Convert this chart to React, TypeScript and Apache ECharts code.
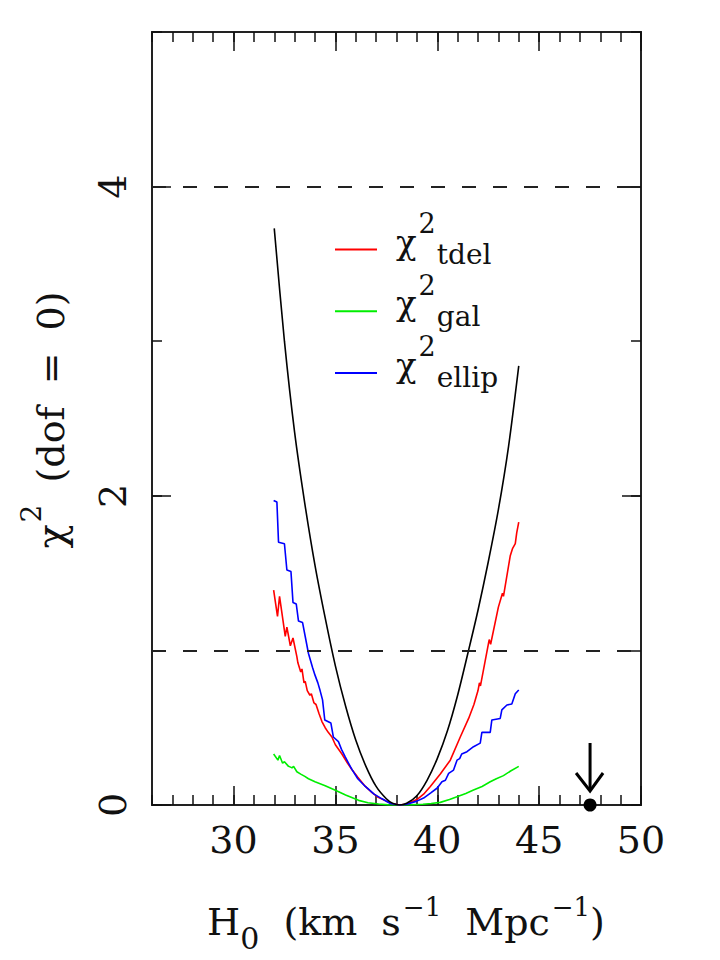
import React, { useEffect, useRef } from "react";
import * as echarts from "echarts";

// ---- axis ranges and ticks ----
const xLimits = [26, 50];
const yLimits = [0, 5];
const xMajorTicks = [30, 35, 40, 45, 50];
const yMajorTicks = [0, 2, 4];
const refLevels = [1, 4];
const limitMarker = [47.5, 0];

// ---- total chi^2 (black) ----
const totalX = [32, 32.5, 33, 33.5, 34, 34.5, 35, 35.5, 36, 36.5, 37, 37.5, 37.8, 38.15, 38.5, 39, 39.5, 40, 40.5, 41, 41.5, 42, 42.5, 43, 43.5, 44];
const totalY = [3.73, 3.0, 2.41, 1.95, 1.55, 1.21, 0.9, 0.64, 0.42, 0.25, 0.12, 0.04, 0.012, 0, 0.011, 0.06, 0.16, 0.3, 0.48, 0.71, 0.98, 1.26, 1.57, 1.91, 2.32, 2.84];

// ---- chi^2 tdel (red) ----
const tdelX = [31.97, 32.16, 32.26, 32.54, 32.62, 32.79, 32.92, 33.11, 33.16, 33.3, 33.36, 33.46, 33.52, 33.62, 33.75, 33.82, 33.95, 34.05, 34.2, 34.34, 34.5, 34.65, 34.83, 35.0, 35.32, 35.6, 35.81, 36.1, 36.47, 36.8, 37.1, 37.5, 37.8, 38.15, 38.5, 39.0, 39.33, 39.66, 40.15, 40.64, 41.13, 41.54, 41.8, 42.0, 42.07, 42.12, 42.35, 42.55, 42.62, 43.0, 43.2, 43.25, 43.58, 43.7, 43.83, 43.9, 44.0];
const tdelY = [1.39, 1.22, 1.35, 1.09, 1.15, 1.03, 1.08, 0.96, 0.92, 0.86, 0.88, 0.79, 0.8, 0.74, 0.71, 0.72, 0.66, 0.65, 0.59, 0.54, 0.5, 0.47, 0.44, 0.39, 0.33, 0.27, 0.23, 0.18, 0.12, 0.08, 0.05, 0.025, 0.01, 0, 0.006, 0.035, 0.07, 0.12, 0.2, 0.29, 0.44, 0.56, 0.65, 0.74, 0.79, 0.77, 0.93, 1.07, 1.04, 1.28, 1.37, 1.35, 1.61, 1.66, 1.69, 1.76, 1.83];

// ---- chi^2 gal (green) ----
const galX = [31.97, 32.18, 32.26, 32.41, 32.5, 32.7, 32.8, 32.87, 32.95, 33.11, 33.3, 33.5, 33.68, 34.0, 34.5, 35.0, 35.5, 36.14, 36.6, 37.12, 37.6, 38.15, 38.7, 39.3, 39.7, 40.15, 40.6, 40.97, 41.4, 41.78, 42.2, 42.6, 42.9, 43.25, 43.6, 44.0];
const galY = [0.33, 0.29, 0.32, 0.27, 0.28, 0.25, 0.245, 0.24, 0.25, 0.215, 0.2, 0.185, 0.17, 0.15, 0.125, 0.095, 0.065, 0.03, 0.015, 0.006, 0.001, 0, 0.001, 0.005, 0.01, 0.017, 0.035, 0.054, 0.075, 0.097, 0.12, 0.15, 0.17, 0.19, 0.22, 0.25];

// ---- chi^2 ellip (blue) ----
const ellipX = [31.97, 32.13, 32.21, 32.5, 32.62, 32.82, 32.92, 33.08, 33.19, 33.39, 33.52, 33.68, 33.88, 34.0, 34.14, 34.25, 34.37, 34.48, 34.78, 34.9, 35.15, 35.3, 35.49, 35.65, 35.81, 36.1, 36.47, 36.9, 37.29, 37.7, 38.15, 38.5, 39.0, 39.33, 39.7, 40.0, 40.23, 40.4, 40.56, 40.8, 40.97, 41.1, 41.2, 41.46, 41.78, 42.11, 42.19, 42.6, 42.68, 43.09, 43.17, 43.42, 43.66, 43.83, 44.0];
const ellipY = [1.97, 1.96, 1.7, 1.69, 1.52, 1.51, 1.31, 1.3, 1.19, 1.18, 1.09, 0.98, 0.89, 0.84, 0.79, 0.74, 0.68, 0.55, 0.53, 0.44, 0.41, 0.36, 0.31, 0.27, 0.23, 0.17, 0.12, 0.07, 0.04, 0.01, 0, 0.005, 0.025, 0.045, 0.08, 0.11, 0.15, 0.16, 0.205, 0.226, 0.29, 0.3, 0.33, 0.345, 0.377, 0.4, 0.47, 0.47, 0.55, 0.56, 0.615, 0.647, 0.653, 0.72, 0.744];

const legendSubs = ["tdel", "gal", "ellip"];

const FONT = "DejaVu Serif";
const INK = "#111";
const RED = "#ff0000";
const GREEN = "#00ee00";
const BLUE = "#0000ff";
const legendColors = [RED, GREEN, BLUE];

export default function App() {
  const ref = useRef<HTMLDivElement>(null);

  useEffect(() => {
    const el = ref.current;
    if (!el) return;
    const chart = echarts.init(el, null, { renderer: "svg" });
    const pairs = (xs: number[], ys: number[]) => xs.map((x, i) => [x, ys[i]]);
    const tickLine = { color: INK, width: 1.5 };

    const xAxisDef = (position: string, major: boolean, labels: boolean) => ({
      type: "value",
      position,
      min: xLimits[0],
      max: xLimits[1],
      interval: 1,
      axisLine: { show: false, onZero: false },
      axisTick: major
        ? { show: true, inside: true, length: 19, lineStyle: tickLine, customValues: xMajorTicks }
        : { show: true, inside: true, length: 10, lineStyle: tickLine },
      axisLabel: labels
        ? {
            show: true,
            customValues: xMajorTicks,
            formatter: (v: number) => (xMajorTicks.includes(v) ? String(v) : ""),
            fontFamily: FONT,
            fontSize: 38,
            color: INK,
            margin: 16,
          }
        : { show: false },
      splitLine: { show: false },
    });

    const yAxisDef = (position: string, major: boolean, labels: boolean) => ({
      type: "value",
      position,
      min: yLimits[0],
      max: yLimits[1],
      interval: 1,
      axisLine: { show: false, onZero: false },
      axisTick: major
        ? { show: true, inside: true, length: 19, lineStyle: tickLine, customValues: yMajorTicks }
        : { show: true, inside: true, length: 10, lineStyle: tickLine },
      axisLabel: labels
        ? {
            show: true,
            customValues: yMajorTicks,
            formatter: (v: number) => (yMajorTicks.includes(v) ? String(v) : ""),
            fontFamily: FONT,
            fontSize: 38,
            color: INK,
            rotate: 90,
            margin: 20,
          }
        : { show: false },
      splitLine: { show: false },
    });

    const legendGraphics: any[] = [];
    legendSubs.forEach((sub, i) => {
      const ly = 249.5 + 61.7 * i;
      legendGraphics.push({
        type: "line",
        shape: { x1: 335, y1: ly, x2: 377, y2: ly },
        style: { stroke: legendColors[i], lineWidth: 2 },
      });
      legendGraphics.push({
        type: "text",
        x: 396,
        y: ly - 8,
        style: {
          text: `{c|χ}{sup|2}{sub|${sub}}`,
          verticalAlign: "middle",
          align: "left",
          fill: INK,
          rich: {
            c: { fontFamily: FONT, fontSize: 34, fill: INK, verticalAlign: "middle" },
            sup: { fontFamily: FONT, fontSize: 27, fill: INK, verticalAlign: "middle", padding: [0, 0, 36, 2] },
            sub: { fontFamily: FONT, fontSize: 28, fill: INK, verticalAlign: "middle", padding: [26, 0, 0, 1] },
          },
        },
      });
    });

    const option: any = {
      animation: false,
      backgroundColor: "#ffffff",
      grid: {
        left: 152,
        right: 79,
        top: 32,
        bottom: 155,
        show: true,
        borderColor: "#222",
        borderWidth: 2,
        backgroundColor: "transparent",
      },
      xAxis: [
        xAxisDef("bottom", false, true),
        xAxisDef("bottom", true, false),
        xAxisDef("top", false, false),
        xAxisDef("top", true, false),
      ],
      yAxis: [
        yAxisDef("left", false, true),
        yAxisDef("left", true, false),
        yAxisDef("right", false, false),
        yAxisDef("right", true, false),
      ],
      series: [
        {
          type: "line",
          name: "total",
          data: pairs(totalX, totalY),
          symbol: "none",
          smooth: 0.3,
          lineStyle: { color: "#000", width: 1.6 },
          z: 4,
          markLine: {
            silent: true,
            symbol: ["none", "none"],
            label: { show: false },
            lineStyle: { color: "#222", type: [14, 17], width: 2 },
            data: refLevels.map((v) => ({ yAxis: v })),
          },
        },
        {
          type: "line",
          name: "tdel",
          data: pairs(tdelX, tdelY),
          symbol: "none",
          lineStyle: { color: RED, width: 1.6 },
          z: 3,
        },
        {
          type: "line",
          name: "gal",
          data: pairs(galX, galY),
          symbol: "none",
          lineStyle: { color: GREEN, width: 1.6 },
          z: 2,
        },
        {
          type: "line",
          name: "ellip",
          data: pairs(ellipX, ellipY),
          symbol: "none",
          lineStyle: { color: BLUE, width: 1.6 },
          z: 3,
        },
        {
          type: "custom",
          name: "limit",
          data: [limitMarker],
          clip: false,
          z: 10,
          renderItem: (params: any, api: any) => {
            const p = api.coord([api.value(0), api.value(1)]);
            return {
              type: "group",
              children: [
                {
                  type: "line",
                  shape: { x1: p[0], y1: p[1] - 62, x2: p[0], y2: p[1] - 14 },
                  style: { stroke: "#000", lineWidth: 3 },
                },
                {
                  type: "polyline",
                  shape: { points: [[p[0] - 14, p[1] - 32], [p[0], p[1] - 14], [p[0] + 13, p[1] - 32]] },
                  style: { stroke: "#000", lineWidth: 3, fill: null },
                },
                {
                  type: "circle",
                  shape: { cx: p[0], cy: p[1], r: 6.5 },
                  style: { fill: "#000" },
                },
              ],
            };
          },
        },
      ],
      graphic: [
        ...legendGraphics,
        {
          type: "text",
          x: 406,
          y: 922,
          style: {
            text: "{n|H}{sub|0}{w| (km}{w| s}{sup|−1}{w| Mpc}{sup|−1}{n|)}",
            align: "center",
            verticalAlign: "middle",
            fill: INK,
            rich: {
              n: { fontFamily: FONT, fontSize: 38, fill: INK, verticalAlign: "middle" },
              w: { fontFamily: FONT, fontSize: 38, fill: INK, verticalAlign: "middle", padding: [0, 0, 0, 12] },
              sub: { fontFamily: FONT, fontSize: 30, fill: INK, verticalAlign: "middle", padding: [32, 0, 0, 0] },
              sup: { fontFamily: FONT, fontSize: 26, fill: INK, verticalAlign: "middle", padding: [0, 0, 30, 2] },
            },
          },
        },
        {
          type: "text",
          x: 51,
          y: 420,
          rotation: Math.PI / 2,
          style: {
            text: "{c|χ}{sup|2}{w| (dof}{w| =}{w| 0)}",
            align: "center",
            verticalAlign: "middle",
            fill: INK,
            rich: {
              c: { fontFamily: FONT, fontSize: 40, fill: INK, verticalAlign: "middle" },
              sup: { fontFamily: FONT, fontSize: 28, fill: INK, verticalAlign: "middle", padding: [0, 0, 40, 2] },
              w: { fontFamily: FONT, fontSize: 38, fill: INK, verticalAlign: "middle", padding: [0, 0, 0, 10] },
            },
          },
        },
      ],
    };

    chart.setOption(option);
    return () => chart.dispose();
  }, []);

  return (
    <div
      ref={ref}
      style={{ position: "absolute", left: 0, top: 0, width: 720, height: 960, background: "#fff" }}
    />
  );
}
